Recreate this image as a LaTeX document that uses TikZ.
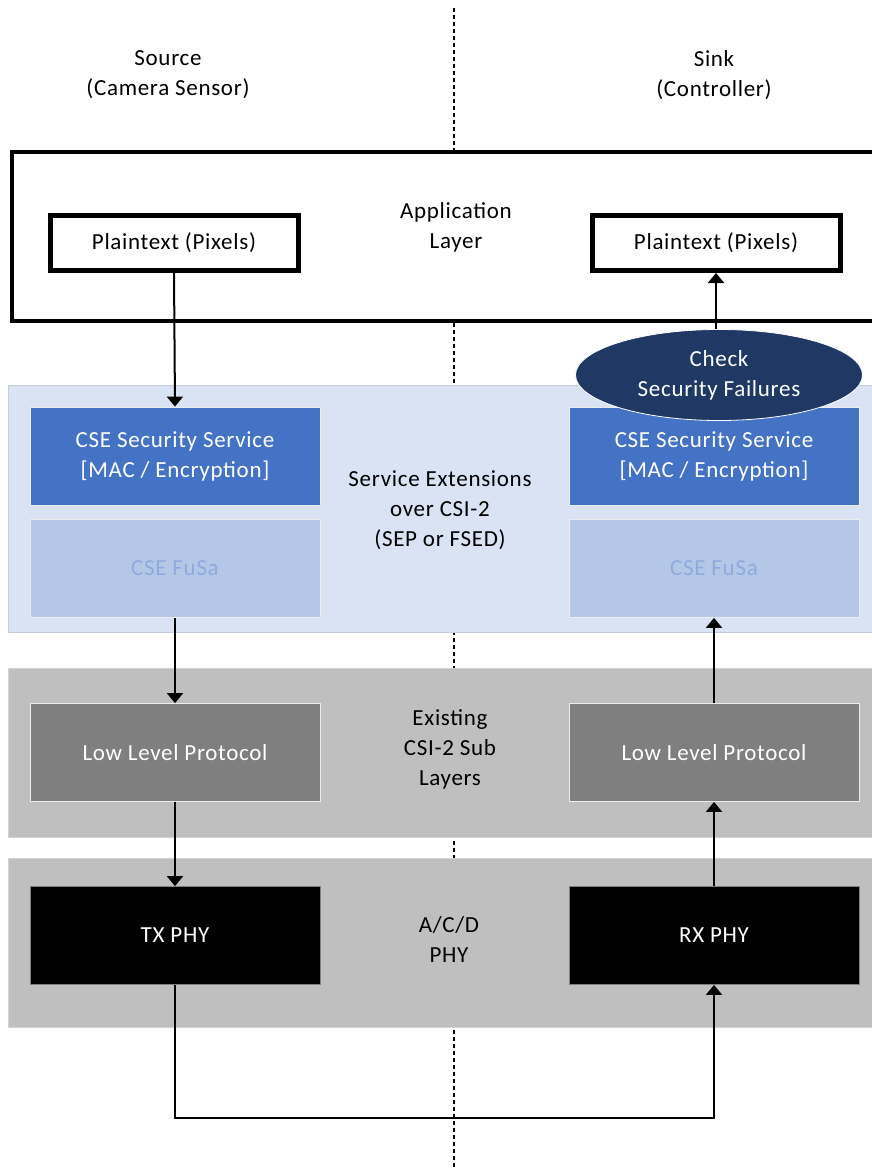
\documentclass[tikz,border=0pt]{standalone}
\usepackage{fontspec}
\setmainfont{Carlito}[LetterSpace=3]
\usetikzlibrary{shapes.geometric,arrows.meta}
\definecolor{bandblue}{HTML}{DAE3F3}
\definecolor{bandblueline}{HTML}{C5CEDD}
\definecolor{secblue}{HTML}{4472C4}
\definecolor{fusafill}{HTML}{B4C7E7}
\definecolor{fusatext}{HTML}{8FAADC}
\definecolor{navy}{HTML}{203864}
\definecolor{bandgray}{HTML}{BFBFBF}
\definecolor{bandgrayline}{HTML}{D4D4D4}
\definecolor{llpgray}{HTML}{7F7F7F}
\tikzset{
  txt/.style={font=\fontsize{23}{30}\selectfont, align=center, inner sep=0pt},
  band/.style={draw=#1, line width=1pt},
  plainbox/.style={txt, draw=black, fill=white, line width=5pt, minimum width=248pt, minimum height=55pt},
  colbox/.style={txt, minimum width=290pt, minimum height=98pt, draw=white!85!gray, line width=0.8pt},
  flow/.style={line width=2pt, -{Triangle[width=16pt,length=10pt]}},
}
\begin{document}
\begin{tikzpicture}[x=1pt,y=-1pt]
\useasboundingbox (0,0) rectangle (872,1169);
\clip (0,0) rectangle (872,1169);
\fill[white] (0,0) rectangle (872,1169);
% divider
\coordinate (dtop) at (454,8);
\coordinate (dbot) at (454,1169);
\draw[line width=2.5pt, dash pattern=on 4pt off 3pt] (dtop) -- (dbot);
% headers
\node[txt] (src) at (168,75) {Source\\(Camera Sensor)};
\node[txt] (snk) at (714,75) {Sink\\(Controller)};
% application layer
\draw[line width=3.5pt, fill=white] (12,152) rectangle (885,321);
\node[txt] (app) at (456,227) {Application\\Layer};
\node[plainbox] (ptl) at (174,243) {Plaintext (Pixels)};
\node[plainbox] (ptr) at (716,243) {Plaintext (Pixels)};
% service extensions band
\draw[band=bandblueline, fill=bandblue] (8,385) rectangle (885,632);
\node[txt] (sep) at (440,510) {Service Extensions\\over CSI-2\\(SEP or FSED)};
\node[colbox, fill=secblue, text=white] (secl) at (175,456) {CSE Security Service\\{[}MAC / Encryption{]}};
\node[colbox, fill=secblue, text=white] (secr) at (714,456) {CSE Security Service\\{[}MAC / Encryption{]}};
\node[colbox, fill=fusafill, text=fusatext] (fusl) at (175,568.5) {CSE FuSa};
\node[colbox, fill=fusafill, text=fusatext] (fusr) at (714,568.5) {CSE FuSa};
% check ellipse
\node[ellipse, fill=navy, draw=white, line width=0.8pt, minimum width=287pt, minimum height=91pt, txt, text=white] (chk) at (719,375) {Check\\Security Failures};
% existing band
\draw[band=bandgrayline, fill=bandgray] (8,668) rectangle (885,837);
\node[txt] (exi) at (450,749) {Existing\\CSI-2 Sub\\Layers};
\node[colbox, fill=llpgray, text=white] (llpl) at (175,752.5) {Low Level Protocol};
\node[colbox, fill=llpgray, text=white] (llpr) at (714,752.5) {Low Level Protocol};
% phy band
\draw[band=bandgrayline, fill=bandgray] (8,858) rectangle (885,1027);
\node[txt] (phy) at (449,940) {A/C/D\\PHY};
\node[colbox, fill=black, text=white, draw=gray] (txp) at (175,935.5) {TX PHY};
\node[colbox, fill=black, text=white, draw=gray] (rxp) at (714,935.5) {RX PHY};
% connectors
\draw[flow] (ptl.south) -- (secl.north);
\draw[flow] (fusl.south) -- (llpl.north);
\draw[flow] (llpl.south) -- (txp.north);
\coordinate (lpbot) at (175,1118);
\coordinate (rpbot) at (714,1118);
\draw[flow] (txp.south) -- (lpbot) -- (rpbot) -- (rxp.south);
\draw[flow] (rxp.north) -- (llpr.south);
\draw[flow] (llpr.north) -- (fusr.south);
\draw[flow] (ptr.south |- chk.north) -- (ptr.south);
\end{tikzpicture}
\end{document}
